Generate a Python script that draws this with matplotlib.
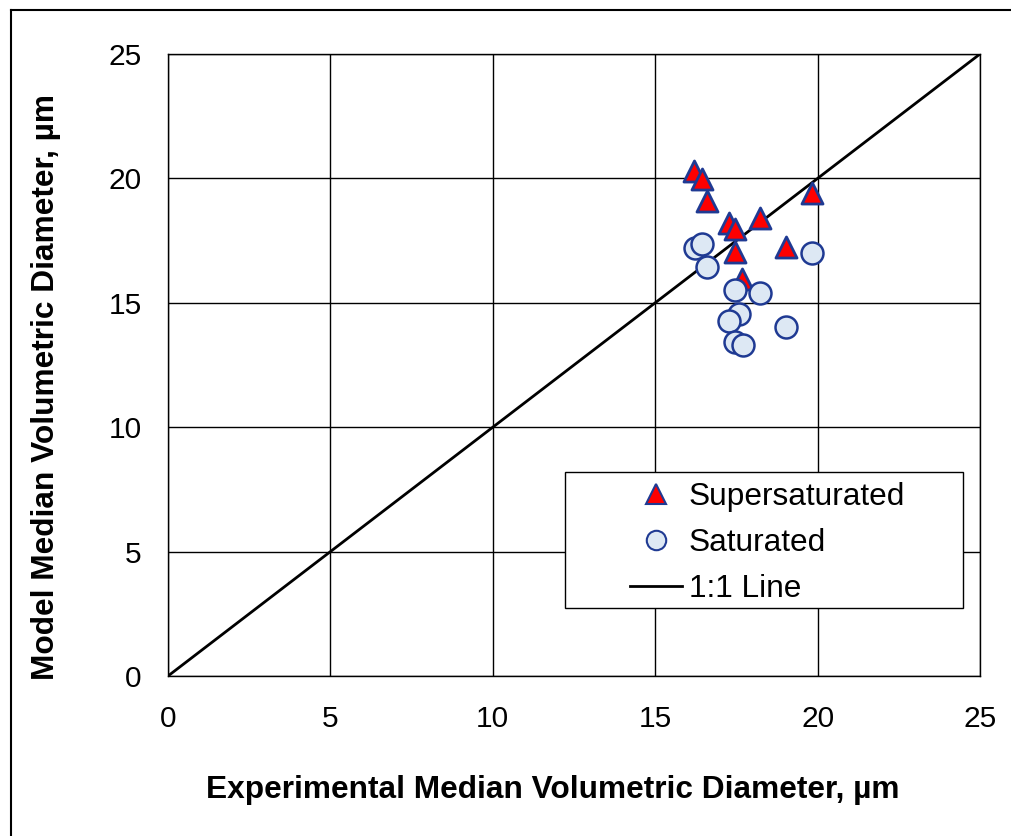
import matplotlib
matplotlib.use("Agg")
import matplotlib.pyplot as plt
from matplotlib.lines import Line2D
from matplotlib.patches import Rectangle

plt.rcParams['font.family'] = ['Liberation Sans', 'DejaVu Sans']

super_x = [16.19, 16.43, 16.58, 17.28, 17.46, 18.23, 17.46, 19.03, 19.84, 17.66]
super_y = [20.31, 19.96, 19.10, 18.19, 17.97, 18.42, 17.05, 17.26, 19.40, 15.94]
sat_x = [16.21, 16.43, 16.58, 17.46, 18.23, 17.58, 17.28, 17.46, 17.69, 19.03, 19.84]
sat_y = [17.19, 17.36, 16.45, 15.51, 15.41, 14.55, 14.28, 13.44, 13.30, 14.01, 17.01]
line_x = [0, 25]
line_y = [0, 25]
ticks = [0, 5, 10, 15, 20, 25]

W, H = 1011, 836
fig = plt.figure(figsize=(W/100, H/100), dpi=100)
L, R, T, B = 168, 980, 54, 676
ax = fig.add_axes([L/W, 1-B/H, (R-L)/W, (B-T)/H])

edge = '#1F3A93'
ax.plot(line_x, line_y, color='black', lw=2.0, zorder=2)
ax.scatter(super_x, super_y, marker='^', s=230, facecolor='#FF0000', edgecolor=edge,
           linewidth=2.0, zorder=3)
ax.scatter(sat_x, sat_y, marker='o', s=250, facecolor='#DDE8F4', edgecolor=edge,
           linewidth=1.8, zorder=4)

ax.set_xlim(0, 25)
ax.set_ylim(0, 25)
ax.set_xticks(ticks)
ax.set_yticks(ticks)
ax.grid(True, color='black', lw=1.0)
ax.set_axisbelow(True)
ax.tick_params(length=0, labelsize=21.5)
ax.tick_params(axis='x', pad=21)
ax.tick_params(axis='y', pad=19)
for s in ax.spines.values():
    s.set_color('black')
    s.set_linewidth(1.0)

fig.text(553/W, 1-790/H, 'Experimental Median Volumetric Diameter, µm', fontsize=22.8,
         fontweight='bold', ha='center', va='center')
fig.text(46/W, 1-387/H, 'Model Median Volumetric Diameter, µm', fontsize=22.8,
         fontweight='bold', ha='center', va='center', rotation=90)

# legend frame
def ax_xy(px, py):
    return (px - L) / (R - L), (B - py) / (B - T)
x0, y1 = ax_xy(565, 472)
x1, y0 = ax_xy(963, 608)
ax.add_patch(Rectangle((x0, y0), x1 - x0, y1 - y0, transform=ax.transAxes,
                       facecolor='white', edgecolor='black', lw=1.0, zorder=5))

handles = [
    Line2D([], [], marker='^', ls='none', markersize=14, markerfacecolor='#FF0000',
           markeredgecolor=edge, markeredgewidth=1.5),
    Line2D([], [], marker='o', ls='none', markersize=14, markerfacecolor='#DDE8F4',
           markeredgecolor=edge, markeredgewidth=1.5),
    Line2D([], [], color='black', lw=2.0),
]
lx, ly = ax_xy(630, 482)
leg = ax.legend(handles, ['Supersaturated', 'Saturated', '1:1 Line'],
                loc='upper left', bbox_to_anchor=(lx, ly),
                fontsize=22.8, frameon=False, borderpad=0, handlelength=1.65,
                handletextpad=0.2, labelspacing=0.5, borderaxespad=0)
leg.set_zorder(6)

fig.add_artist(Line2D([11/W, 11/W], [0, 1-10/H], color='black', lw=1.5, transform=fig.transFigure))
fig.add_artist(Line2D([11/W, 1], [1-10/H, 1-10/H], color='black', lw=1.5, transform=fig.transFigure))

fig.savefig('out.png', dpi=100)
